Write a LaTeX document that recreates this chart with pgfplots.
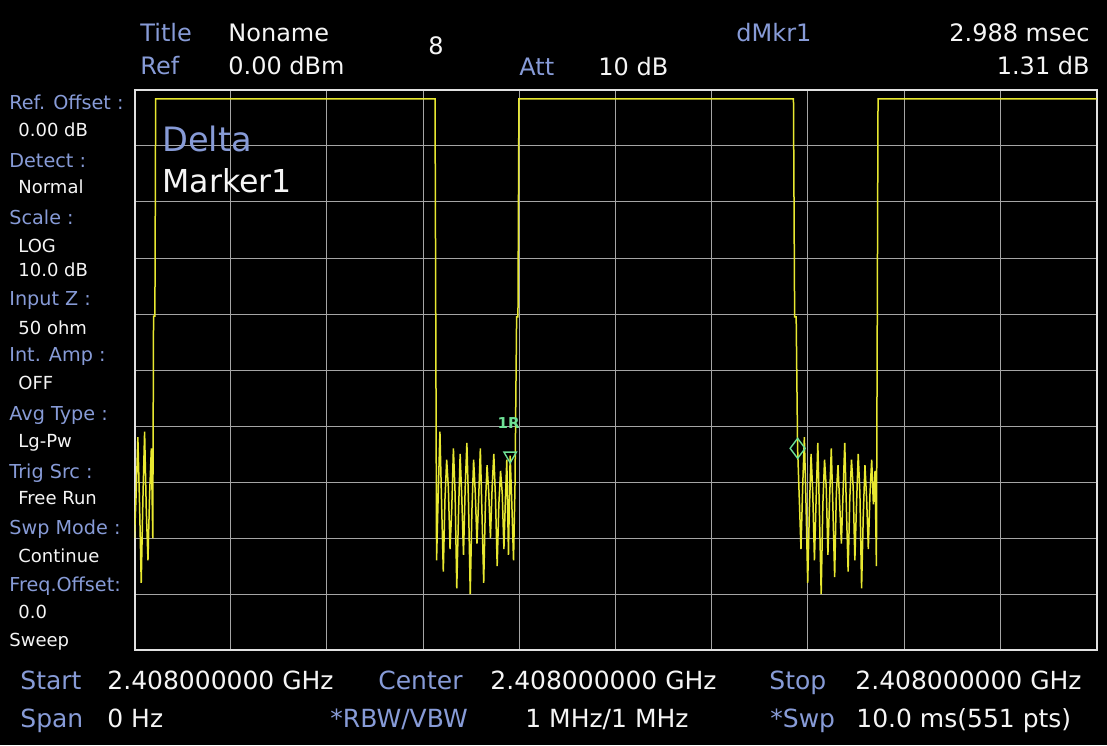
\documentclass[border=0pt]{standalone}
\usepackage{pgfplots}
\pgfplotsset{compat=1.18}
\usepackage{fontspec}
\setmainfont{DejaVu Sans}

\definecolor{lbl}{RGB}{135,155,215}
\definecolor{val}{RGB}{245,245,245}
\definecolor{trace}{RGB}{232,232,48}
\definecolor{gridc}{RGB}{165,165,165}
\definecolor{framec}{RGB}{225,225,225}
\definecolor{mkr}{RGB}{110,225,150}

% zero-span sweep, 10 ms, power in dBm
\pgfplotstableread{
t dbm
0.000 -80
0.0175 -72
0.035 -62
0.0525 -74
0.070 -88
0.0875 -73
0.105 -61
0.1225 -75
0.140 -84
0.1575 -72
0.175 -64
0.190 -80
0.198 -40.4
0.212 -40.4
0.220 -1.6
3.124 -1.6
3.140 -84
3.1575 -72
3.175 -61
3.1925 -74
3.210 -86
3.2275 -73
3.245 -66
3.2625 -71
3.280 -82
3.2975 -75
3.315 -64
3.3325 -72
3.350 -89
3.3675 -76
3.385 -65
3.4025 -73
3.420 -83
3.4375 -71
3.455 -63
3.4725 -74
3.490 -90
3.5075 -75
3.525 -66
3.5425 -72
3.560 -81
3.5775 -73
3.595 -64
3.6125 -76
3.630 -88
3.6475 -74
3.665 -67
3.6825 -72
3.700 -80
3.7175 -71
3.735 -65
3.7525 -73
3.770 -85
3.7875 -74
3.805 -68
3.8225 -72
3.840 -82
3.8575 -72
3.870 -66
3.8875 -83
3.905 -65.3
3.9225 -74
3.940 -84
3.955 -71
3.972 -40.5
3.986 -40.5
3.996 -1.6
6.850 -1.6
6.862 -40.5
6.878 -40.5
6.893 -64.0
6.9105 -73
6.928 -82
6.9455 -71
6.963 -62
6.9805 -74
6.998 -88
7.0155 -75
7.033 -65
7.0505 -72
7.068 -84
7.0855 -73
7.103 -63
7.1205 -76
7.138 -90
7.1555 -74
7.173 -66
7.1905 -71
7.208 -83
7.2255 -73
7.243 -64
7.2605 -75
7.278 -87
7.2955 -72
7.313 -67
7.3305 -74
7.348 -81
7.3655 -72
7.383 -63
7.4005 -75
7.418 -86
7.4355 -73
7.453 -66
7.4705 -71
7.488 -84
7.5055 -74
7.523 -65
7.5405 -72
7.558 -89
7.5755 -76
7.593 -67
7.6105 -73
7.628 -82
7.6455 -72
7.663 -66
7.6805 -74
7.698 -68
7.712 -85
7.729 -1.6
10.000 -1.6
}\sweep

\newcommand{\lb}[3]{\node[anchor=base west,inner sep=0pt,text=lbl] at (#1,#2) {#3};}
\newcommand{\vl}[3]{\node[anchor=base west,inner sep=0pt,text=val] at (#1,#2) {#3};}

\begin{document}
\begin{tikzpicture}[x=0.5pt,y=0.5pt]
\fill[black] (0,0) rectangle (1107,745);
\useasboundingbox (0,0) rectangle (1107,745);

\begin{axis}[
  at={(67.25pt,47.5pt)}, anchor=south west,
  width=481pt, height=280pt, scale only axis,
  xmin=0, xmax=10, ymin=-100, ymax=0,
  xtick={0,1,...,10}, ytick={-100,-90,...,0},
  xticklabels={}, yticklabels={},
  major tick length=0pt,
  grid=major,
  major grid style={gridc, line width=0.5pt},
  axis line style={framec, line width=1pt},
  axis background/.style={fill=black},
  clip=true,
]
\addplot[trace, line width=0.75pt, line join=miter, miter limit=2] table[x=t,y=dbm] {\sweep};
% reference marker and delta marker
\addplot[only marks, mark=triangle, mark size=3.6pt, mark options={mkr, line width=0.7pt, rotate=180}] coordinates {(3.905,-65.3)};
\addplot[only marks, mark=diamond, mark size=5pt, mark options={mkr, line width=0.7pt}] coordinates {(6.893,-64.0)};
\node[text=mkr, font=\fontsize{7.5}{8}\selectfont\bfseries, inner sep=0pt] at (axis cs:3.89,-59.5) {1R};
\end{axis}

% marker readout inside the screen
\node[anchor=base west,inner sep=0pt,text=lbl,font=\fontsize{16.8}{18}\selectfont] at (162,593) {Delta};
\node[anchor=base west,inner sep=0pt,text=val,font=\fontsize{15.8}{18}\selectfont] at (162,552) {Marker1};

% header
\begingroup\fontsize{12}{14}\selectfont
\lb{140}{703}{Title}
\vl{228}{703}{Noname}
\lb{140}{670}{Ref}
\vl{228}{670}{0.00 dBm}
\vl{428}{690}{8}
\lb{519}{669}{Att}
\vl{598}{669}{10 dB}
\lb{736}{703}{dMkr1}
\node[anchor=base east,inner sep=0pt,text=val] at (1090,703) {2.988 msec};
\node[anchor=base east,inner sep=0pt,text=val] at (1090,670) {1.31 dB};
\endgroup
% footer
\begingroup\fontsize{12.5}{14}\selectfont
\lb{20}{56}{Start}
\vl{107}{56}{2.408000000 GHz}
\lb{378}{56}{Center}
\vl{490}{56}{2.408000000 GHz}
\lb{769}{56}{Stop}
\vl{855}{56}{2.408000000 GHz}
\lb{20}{18}{Span}
\vl{107}{18}{0 Hz}
\lb{330}{18}{*RBW/VBW}
\vl{525}{18}{1 MHz/1 MHz}
\lb{770}{18}{*Swp}
\vl{856}{18}{10.0 ms(551 pts)}
\endgroup

% settings panel
\begingroup\fontsize{9.6}{10}\selectfont
\lb{9}{635}{Ref. Offset :}
\lb{9}{577}{Detect :}
\lb{9}{520}{Scale :}
\lb{9}{439}{Input Z :}
\lb{9}{383}{Int. Amp :}
\lb{9}{325}{Avg Type :}
\lb{9}{267}{Trig Src :}
\lb{9}{211}{Swp Mode :}
\lb{9}{154}{Freq.Offset:}
\endgroup
\begingroup\fontsize{9}{10}\selectfont
\vl{18}{608}{0.00 dB}
\vl{18}{551}{Normal}
\vl{18}{492}{LOG}
\vl{18}{468}{10.0 dB}
\vl{18}{410}{50 ohm}
\vl{18}{356}{OFF}
\vl{18}{298}{Lg-Pw}
\vl{18}{241}{Free Run}
\vl{18}{183}{Continue}
\vl{18}{127}{0.0}
\vl{9}{99}{Sweep}
\endgroup
\end{tikzpicture}
\end{document}
